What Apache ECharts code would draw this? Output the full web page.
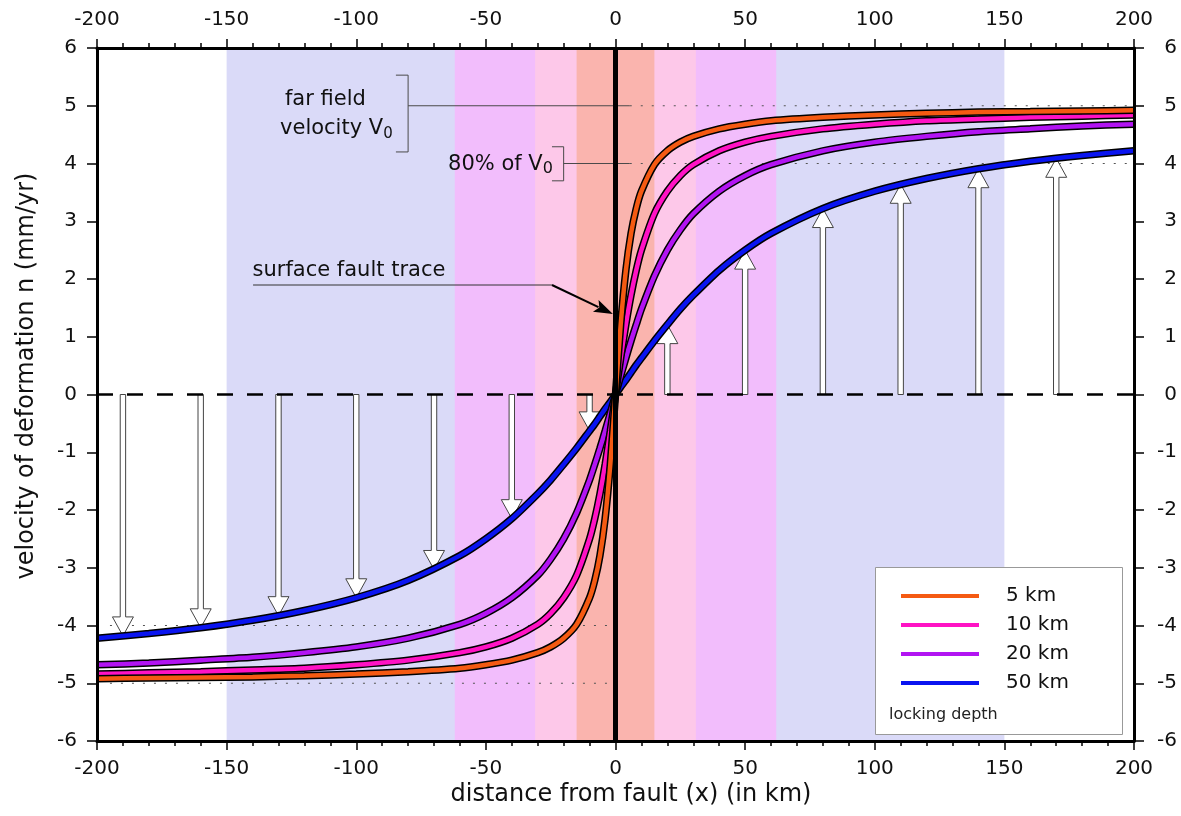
<!DOCTYPE html>
<html><head><meta charset="utf-8">
<script src="https://cdn.jsdelivr.net/npm/echarts@6/dist/echarts.min.js"></script>
<style>html,body{margin:0;padding:0;background:#fff;}#c{width:1181px;height:816px;}</style>
</head><body><div id="c"></div>
<script>
// ---- data ----
const xKm = [-200,-180,-160,-140,-120,-100,-80,-60,-50,-40,-30,-25,-20,-15,-10,-8,-6,-4,-2,0,2,4,6,8,10,15,20,25,30,40,50,60,80,100,120,140,160,180,200];
const v5km  = [-4.92,-4.91,-4.90,-4.89,-4.87,-4.84,-4.80,-4.74,-4.68,-4.60,-4.47,-4.37,-4.22,-3.98,-3.52,-3.22,-2.79,-2.15,-1.21,0,1.21,2.15,2.79,3.22,3.52,3.98,4.22,4.37,4.47,4.60,4.68,4.74,4.80,4.84,4.87,4.89,4.90,4.91,4.92];
const v10km = [-4.84,-4.82,-4.80,-4.77,-4.74,-4.68,-4.60,-4.47,-4.37,-4.22,-3.98,-3.79,-3.52,-3.13,-2.50,-2.15,-1.72,-1.21,-0.63,0,0.63,1.21,1.72,2.15,2.50,3.13,3.52,3.79,3.98,4.22,4.37,4.47,4.60,4.68,4.74,4.77,4.80,4.82,4.84];
const v20km = [-4.68,-4.65,-4.60,-4.55,-4.47,-4.37,-4.22,-3.98,-3.79,-3.52,-3.13,-2.85,-2.50,-2.05,-1.48,-1.21,-0.93,-0.63,-0.32,0,0.32,0.63,0.93,1.21,1.48,2.05,2.50,2.85,3.13,3.52,3.79,3.98,4.22,4.37,4.47,4.55,4.60,4.65,4.68];
const v50km = [-4.22,-4.14,-4.04,-3.91,-3.74,-3.52,-3.22,-2.79,-2.50,-2.15,-1.72,-1.48,-1.21,-0.93,-0.63,-0.51,-0.38,-0.25,-0.13,0,0.13,0.25,0.38,0.51,0.63,0.93,1.21,1.48,1.72,2.15,2.50,2.79,3.22,3.52,3.74,3.91,4.04,4.14,4.22];
const depthLabels = ['5 km','10 km','20 km','50 km'];
const arrowX = [-190,-160,-130,-100,-70,-40,-10,20,50,80,110,140,170];
const arrowV = [-4.18,-4.04,-3.83,-3.52,-3.03,-2.15,-0.63,1.21,2.50,3.22,3.64,3.91,4.09];
const bandHalfWidths = [150, 62, 31, 15];
const farFieldV = 5;
const eightyV = 4;
const xTickStep = 50;
const yTickStep = 1;

// annotation anchors (data units)
const farBracket = [[-84.7,5.53],[-80,5.53],[-80,4.2],[-84.7,4.2]];
const v80Bracket = [[-24.5,4.29],[-20,4.29],[-20,3.70],[-24.5,3.70]];
const leaderEndX = 5.5;
const traceLine = [[-139.8,1.896],[-24.5,1.896]];
const traceArrow = [[-24.5,1.896],[-1.0,1.394]];

// ---- styles ----
const FONT = 'DejaVu Sans';
const curveColors = ['#f55a12','#ff12c4','#b214f2','#0a14f0'];
const bandFills = ['#dadaf8','#f2bdfc','#fdc8e9','#fab4ae'];

const pairs = (xs, ys) => xs.map((x, i) => [x, ys[i]]);
const curves = [v5km, v10km, v20km, v50km];

const chart = echarts.init(document.getElementById('c'));

const axisCommon = {
  type: 'value', min: -200, max: 200, interval: xTickStep,
  splitLine: {show: false},
  axisLine: {show: true, onZero: false, lineStyle: {color: '#000', width: 3}},
  axisTick: {show: true, inside: false, length: 9, lineStyle: {color: '#000', width: 1.5}},
  minorTick: {show: true, splitNumber: 5, length: 5, lineStyle: {color: '#000', width: 1.5}},
  axisLabel: {color: '#111', fontSize: 20, fontFamily: FONT, margin: 18},
  z: 50
};
const yCommon = {
  type: 'value', min: -6, max: 6, interval: yTickStep,
  splitLine: {show: false},
  axisLine: {show: true, onZero: false, lineStyle: {color: '#000', width: 3}},
  axisTick: {show: true, inside: false, length: 10, lineStyle: {color: '#000', width: 1.5}},
  axisLabel: {color: '#111', fontSize: 20, fontFamily: FONT},
  z: 50
};

const series = [];

// background bands
series.push({
  type: 'custom', name: 'bands', z: 1, silent: true,
  data: bandHalfWidths.map(w => [-w, w]),
  encode: {x: [0, 1]},
  renderItem: function (params, api) {
    const a = api.coord([api.value(0), 6]);
    const b = api.coord([api.value(1), -6]);
    return {type: 'rect', shape: {x: a[0], y: a[1], width: b[0] - a[0], height: b[1] - a[1]},
      style: {fill: bandFills[params.dataIndex]}};
  }
});

// annotation lines & texts
series.push({
  type: 'custom', name: 'annotations', z: 3, silent: true,
  data: [[0, 0]], encode: {x: 0, y: 1},
  renderItem: function (params, api) {
    const c = p => api.coord(p);
    const ch = [];
    const line = (pts, st) => ch.push({type: 'polyline', shape: {points: pts.map(c)},
      style: Object.assign({fill: null, stroke: '#4a4a4a', lineWidth: 1}, st || {})});
    const dotted = {stroke: '#555', lineDash: [2, 9]};
    line(farBracket);
    line([[farBracket[1][0], farFieldV], [leaderEndX, farFieldV]]);
    line([[leaderEndX, farFieldV], [200, farFieldV]], dotted);
    line(v80Bracket);
    line([[v80Bracket[1][0], eightyV], [leaderEndX, eightyV]]);
    line([[leaderEndX, eightyV], [200, eightyV]], dotted);
    line([[-195, -eightyV], [-2, -eightyV]], dotted);
    line([[-195, -farFieldV], [-2, -farFieldV]], dotted);
    line(traceLine, {stroke: '#333'});
    // arrow to fault trace
    const p0 = c(traceArrow[0]), p1 = c(traceArrow[1]);
    const dx = p1[0] - p0[0], dy = p1[1] - p0[1], L = Math.hypot(dx, dy);
    const ux = dx / L, uy = dy / L, nx = -uy, ny = ux;
    const hl = 19, hw = 6.5;
    const bx = p1[0] - ux * hl, by = p1[1] - uy * hl;
    ch.push({type: 'line', shape: {x1: p0[0], y1: p0[1], x2: bx + ux * 3, y2: by + uy * 3}, style: {stroke: '#000', lineWidth: 2}});
    ch.push({type: 'polygon', shape: {points: [[p1[0], p1[1]], [bx + nx * hw, by + ny * hw], [bx + ux * 4, by + uy * 4], [bx - nx * hw, by - ny * hw]]}, style: {fill: '#000'}});
    const txt = (pos, text, extra) => {
      const p = c(pos);
      ch.push({type: 'text', style: Object.assign({text: text, x: p[0], y: p[1], align: 'left', verticalAlign: 'middle',
        fontSize: 21, fontFamily: FONT, fill: '#111', lineHeight: 26}, extra || {})});
    };
    txt([-127.5, 5.10], 'far field');
    txt([-129.4, 4.61], 'velocity V{s|0}', {rich: {s: {fontSize: 15, lineHeight: 24, verticalAlign: 'bottom', fontFamily: FONT, fill: '#111'}}});
    txt([-64.6, 3.99], '80% of V{s|0}', {rich: {s: {fontSize: 16, lineHeight: 12, verticalAlign: 'bottom', fontFamily: FONT, fill: '#111'}}});
    txt([-140, 2.14], 'surface fault trace');
    return {type: 'group', children: ch};
  }
});

// velocity arrows
series.push({
  type: 'custom', name: 'arrows', z: 4, silent: true,
  data: pairs(arrowX, arrowV), encode: {x: 0, y: 1},
  renderItem: function (params, api) {
    const x = api.value(0), v = api.value(1);
    const p0 = api.coord([x, 0]), p1 = api.coord([x, v]);
    const s = Math.sign(p1[1] - p0[1]);
    const sw = 2.7, hw = 10.5, hl = 19;
    const cx = p0[0], y0 = p0[1], y1 = p1[1], yb = y1 - s * hl;
    return {type: 'polygon', shape: {points: [[cx - sw, y0], [cx + sw, y0], [cx + sw, yb], [cx + hw, yb], [cx, y1], [cx - hw, yb], [cx - sw, yb]]},
      style: {fill: '#fff', stroke: '#444', lineWidth: 1}};
  }
});

// zero dashed line
series.push({
  type: 'line', name: 'zero', z: 5, silent: true, showSymbol: false,
  data: [[-200, 0], [200, 0]],
  lineStyle: {color: '#000', width: 2.5, type: [16, 14]}
});

// curves (draw 50 km first, 5 km last)
for (let k = 3; k >= 0; k--) {
  const d = pairs(xKm, curves[k]);
  series.push({type: 'line', name: 'outline' + k, z: 6 + (3 - k) * 2, silent: true, showSymbol: false,
    smooth: 0.25, data: d,
    lineStyle: {color: '#000', width: 7.5}, itemStyle: {color: '#000'}});
  series.push({type: 'line', name: depthLabels[k], z: 7 + (3 - k) * 2, silent: true, showSymbol: false,
    smooth: 0.25, data: d,
    lineStyle: {color: curveColors[k], width: 4.5}, itemStyle: {color: curveColors[k]}});
}

// fault line at x = 0
series.push({
  type: 'line', name: 'fault', z: 20, silent: true, showSymbol: false,
  data: [[0, -6], [0, 6]],
  lineStyle: {color: '#000', width: 5}
});

chart.setOption({
  animation: false,
  backgroundColor: '#fff',
  textStyle: {fontFamily: FONT},
  grid: {left: 97, right: 47, top: 48, bottom: 75, containLabel: false},
  xAxis: [
    Object.assign({}, axisCommon, {position: 'bottom',
      name: 'distance from fault (x) (in km)', nameLocation: 'middle', nameGap: 42, nameMoveOverlap: false,
      nameTextStyle: {fontSize: 24, fontFamily: FONT, color: '#111', padding: [0, 0, 0, 31]}}),
    Object.assign({}, axisCommon, {position: 'top'})
  ],
  yAxis: [
    Object.assign({}, yCommon, {position: 'left', axisLabel: Object.assign({}, yCommon.axisLabel, {margin: 20}),
      name: 'velocity of deformation n (mm/yr)', nameLocation: 'middle', nameGap: 58, nameMoveOverlap: false,
      nameTextStyle: {fontSize: 24, fontFamily: FONT, color: '#111', padding: [0, 0, 0, 37]}}),
    Object.assign({}, yCommon, {position: 'right', axisLabel: Object.assign({}, yCommon.axisLabel, {margin: 43, align: 'right'})})
  ],
  legend: {
    data: depthLabels, orient: 'vertical', left: 901, top: 584, padding: 0,
    itemWidth: 78, itemHeight: 4, itemGap: 5, icon: 'rect', selectedMode: false, z: 60,
    textStyle: {fontSize: 20, fontFamily: FONT, color: '#111', lineHeight: 24, padding: [0, 0, 0, 22]}
  },
  graphic: [
    {type: 'rect', left: 875, top: 567, z: 55, shape: {width: 247, height: 167},
      style: {fill: '#fff', stroke: '#999', lineWidth: 1}},
    {type: 'text', left: 889, top: 707, z: 56,
      style: {text: 'locking depth', fontSize: 16, fontFamily: FONT, fill: '#222'}}
  ],
  series: series
});
</script></body></html>
